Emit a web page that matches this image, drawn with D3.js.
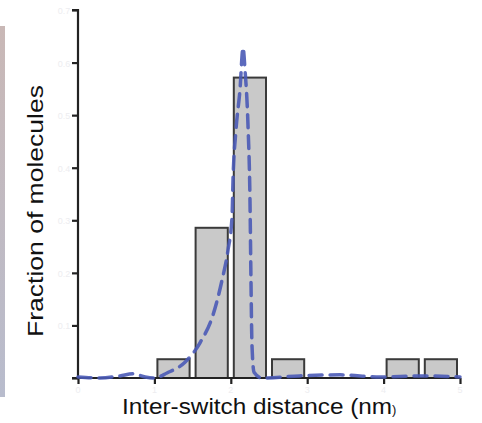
<!DOCTYPE html>
<html>
<head>
<meta charset="utf-8">
<title>Inter-switch distance</title>
<script src="https://d3js.org/d3.v7.min.js"></script>
<style>
  body { margin: 0; background: #fff; }
  svg { display: block; font-family: 'Liberation Sans', Arial, sans-serif; }
</style>
</head>
<body>
<div id="chart"></div>
<script>
// histogram bins (nm) and fraction of molecules
const binStarts = [1.0, 1.5, 2.0, 2.5, 4.0, 4.5]
const binWidth = 0.5
const fractions = [1 / 28, 8 / 28, 16 / 28, 1 / 28, 1 / 28, 1 / 28]

// dashed fit curve
const fitX = [0, 0.29, 0.55, 0.72, 0.88, 1.0, 1.165, 1.4, 1.597, 1.767, 1.885, 1.963, 2.016, 2.029, 2.068, 2.12, 2.16,
  2.186, 2.225, 2.251, 2.264, 2.277, 2.304, 2.408, 2.9, 3.43, 3.95, 4.48, 5.0]
const fitY = [0.002, 0, 0.004, 0.008, 0.002, 0, 0.0095, 0.03, 0.067, 0.12, 0.186, 0.243, 0.306, 0.377, 0.472, 0.548, 0.628,
  0.586, 0.481, 0.339, 0.186, 0.063, 0.011, 0, 0.004, 0.006, 0.002, 0.004, 0.002]

const xTicks = [0, 1, 2, 3, 4, 5]
const yTicks = [0, 0.1, 0.2, 0.3, 0.4, 0.5, 0.6, 0.7]

const w = 482, h = 423
const svg = d3.select('#chart').append('svg').attr('width', w).attr('height', h)

// side stripe
const grad = svg.append('defs').append('linearGradient')
  .attr('id', 'stripe').attr('x1', 0).attr('x2', 0).attr('y1', 0).attr('y2', 1)
grad.append('stop').attr('offset', '0%').attr('stop-color', '#c9b8b6')
grad.append('stop').attr('offset', '100%').attr('stop-color', '#b8bccd')
svg.append('rect').attr('x', 0).attr('y', 26).attr('width', 5).attr('height', 371).attr('fill', 'url(#stripe)')

const x = d3.scaleLinear().domain([0, 5]).range([78, 460])
const y = d3.scaleLinear().domain([0, 0.7]).range([378, 10])

// faint tick labels (washed out in the original)
svg.append('g').selectAll('text').data(yTicks.slice(1)).join('text')
  .attr('x', 64).attr('y', d => y(d) + 4)
  .attr('text-anchor', 'middle').attr('font-size', 9).attr('fill', '#ededf0')
  .text(d => d.toFixed(1))
svg.append('g').selectAll('text').data(xTicks).join('text')
  .attr('x', d => x(d)).attr('y', 393)
  .attr('text-anchor', 'middle').attr('font-size', 9).attr('fill', '#ededf0')
  .text(d => d)

// bars
svg.append('g').selectAll('rect').data(binStarts).join('rect')
  .attr('x', d => x(d) + 3)
  .attr('y', (d, i) => y(fractions[i]))
  .attr('width', d => x(d + binWidth) - x(d) - 6)
  .attr('height', (d, i) => y(0) - y(fractions[i]))
  .attr('fill', '#c9c9c9')
  .attr('stroke', '#3a3a3a')
  .attr('stroke-width', 2)

// axes
const yAxis = svg.append('g').attr('transform', `translate(${x(0)},0)`)
  .call(d3.axisLeft(y).tickValues(yTicks).tickSize(6).tickFormat(''))
const xAxis = svg.append('g').attr('transform', `translate(0,${y(0)})`)
  .call(d3.axisBottom(x).tickValues(xTicks).tickSize(6).tickFormat(''))
svg.selectAll('.domain, .tick line').attr('stroke', '#222').attr('stroke-width', 2.2)
yAxis.select('.domain').attr('d', `M-6,${y(0.7)}H0V${y(0)}`)
xAxis.select('.domain').attr('d', `M${x(0) - 6},0H${x(5)}`)

// fit curve
const fit = fitX.map((d, i) => [d, fitY[i]])
svg.append('path')
  .datum(fit)
  .attr('fill', 'none')
  .attr('stroke', '#4a5ab6')
  .attr('stroke-width', 3.5)
  .attr('stroke-dasharray', '13,8')
  .attr('stroke-linecap', 'round')
  .attr('opacity', 0.9)
  .attr('d', d3.line().x(d => x(d[0])).y(d => y(d[1])).curve(d3.curveMonotoneX))

// axis titles
svg.append('text')
  .attr('transform', 'translate(43,211) rotate(-90)')
  .attr('text-anchor', 'middle')
  .attr('font-size', 22)
  .attr('textLength', 252)
  .attr('lengthAdjust', 'spacingAndGlyphs')
  .attr('fill', '#111')
  .text('Fraction of molecules')

const xt = svg.append('text')
  .attr('x', 122).attr('y', 414)
  .attr('font-size', 22)
  .attr('fill', '#111')
xt.append('tspan').attr('textLength', 270).attr('lengthAdjust', 'spacingAndGlyphs').text('Inter-switch distance (nm')
xt.append('tspan').attr('font-size', 13).text(')')
</script>
</body>
</html>
